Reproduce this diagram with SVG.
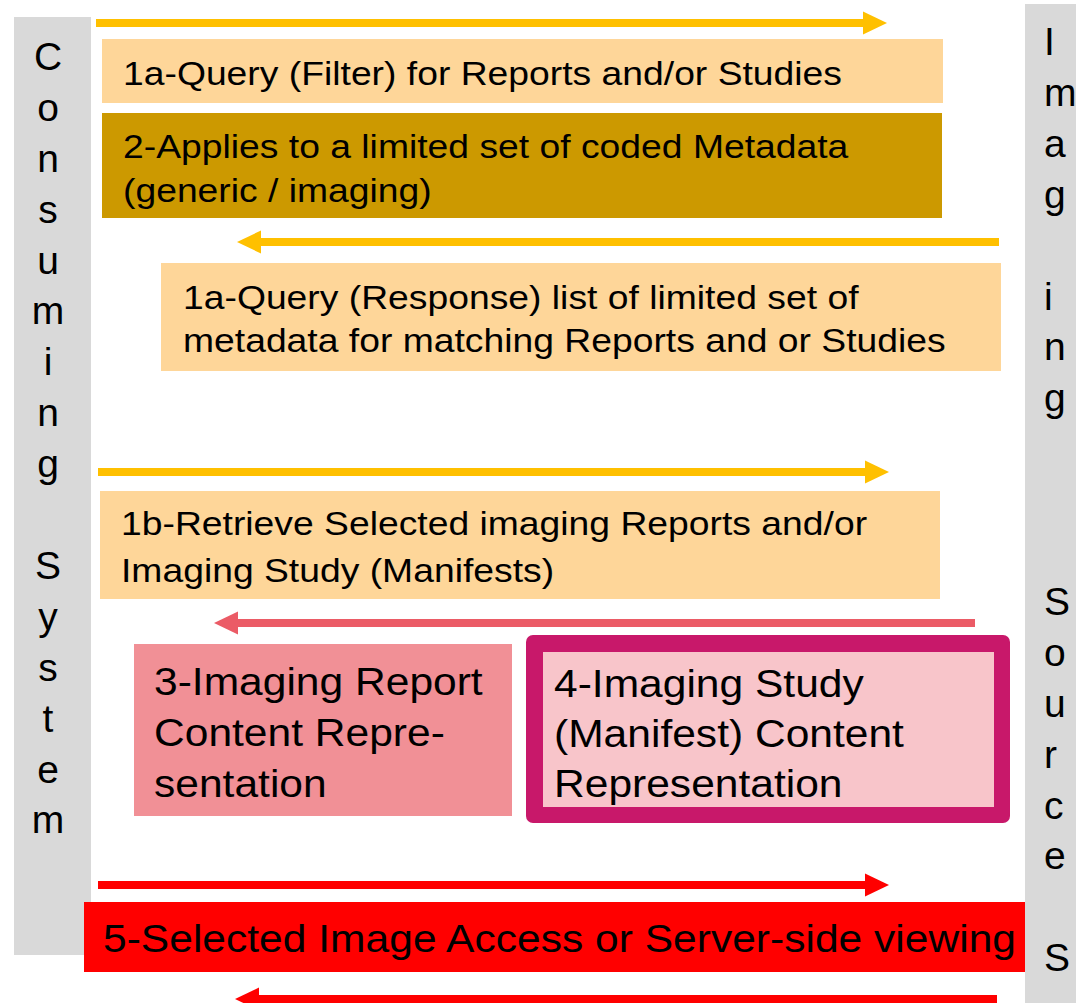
<svg xmlns="http://www.w3.org/2000/svg" width="1076" height="1003" viewBox="0 0 1076 1003">
<style>
  .t{font-family:"Liberation Sans",Arial,sans-serif;fill:#000}
  .m{font-size:33px}
  .b{font-size:38px}
  .v{font-family:"Liberation Sans",Arial,sans-serif;font-size:39px;fill:#000}
  .bar{fill:#D9D9D9}
  .lo{fill:#FED699}
  .ay{stroke:#FFC000;stroke-width:8;fill:none}
  .ap{stroke:#EB5B66;stroke-width:8;fill:none}
  .ar{stroke:#FF0000;stroke-width:8;fill:none}
</style>
<defs>
  <marker id="hy" markerUnits="userSpaceOnUse" markerWidth="24" markerHeight="23" refX="0" refY="11.5" orient="auto" overflow="visible"><path d="M0,0 L24,11.5 L0,23 z" fill="#FFC000"/></marker>
  <marker id="hp" markerUnits="userSpaceOnUse" markerWidth="24" markerHeight="23" refX="0" refY="11.5" orient="auto" overflow="visible"><path d="M0,0 L24,11.5 L0,23 z" fill="#EB5B66"/></marker>
  <marker id="hr" markerUnits="userSpaceOnUse" markerWidth="24" markerHeight="23" refX="0" refY="11.5" orient="auto" overflow="visible"><path d="M0,0 L24,11.5 L0,23 z" fill="#FF0000"/></marker>
</defs>
<rect width="1076" height="1003" fill="#FFFFFF"/>

<g id="consuming-system">
  <rect class="bar" x="14" y="17" width="77" height="938"/>
  <g class="v" text-anchor="middle">
    <text x="48" y="70">C</text>
    <text x="48" y="121">o</text>
    <text x="48" y="172">n</text>
    <text x="48" y="223">s</text>
    <text x="48" y="274">u</text>
    <text x="48" y="324">m</text>
    <text x="48" y="375">i</text>
    <text x="48" y="426">n</text>
    <text x="48" y="477">g</text>
    <text x="48" y="579">S</text>
    <text x="48" y="630">y</text>
    <text x="48" y="681">s</text>
    <text x="48" y="732">t</text>
    <text x="48" y="783">e</text>
    <text x="48" y="833">m</text>
  </g>
</g>

<g id="imaging-source-system">
  <rect class="bar" x="1025" y="4" width="51" height="999"/>
  <g class="v">
    <text x="1044" y="55">I</text>
    <text x="1044" y="106">m</text>
    <text x="1044" y="157">a</text>
    <text x="1044" y="208">g</text>
    <text x="1044" y="310">i</text>
    <text x="1044" y="360">n</text>
    <text x="1044" y="411">g</text>
    <text x="1044" y="615">S</text>
    <text x="1044" y="666">o</text>
    <text x="1044" y="717">u</text>
    <text x="1044" y="768">r</text>
    <text x="1044" y="819">c</text>
    <text x="1044" y="869">e</text>
    <text x="1044" y="971">S</text>
  </g>
</g>

<g id="box-1a-query">
  <rect class="lo" x="102" y="39" width="841" height="64"/>
  <text class="t m" transform="translate(123,85) scale(1.13,1)">1a-Query (Filter) for Reports and/or Studies</text>
</g>

<g id="box-2-applies">
  <rect x="102" y="113" width="840" height="105" fill="#CC9900"/>
  <text class="t m" transform="translate(123,158) scale(1.13,1)">2-Applies to a limited set of coded Metadata</text>
  <text class="t m" transform="translate(123,202) scale(1.13,1)">(generic / imaging)</text>
</g>

<g id="box-1a-response">
  <rect class="lo" x="161" y="263" width="840" height="108"/>
  <text class="t m" transform="translate(183,309) scale(1.13,1)">1a-Query (Response) list of limited set of</text>
  <text class="t m" transform="translate(183,352) scale(1.13,1)">metadata for matching Reports and or Studies</text>
</g>

<g id="box-1b-retrieve">
  <rect class="lo" x="100" y="491" width="840" height="108"/>
  <text class="t m" transform="translate(121,535) scale(1.13,1)">1b-Retrieve Selected imaging Reports and/or</text>
  <text class="t m" transform="translate(121,582) scale(1.13,1)">Imaging Study (Manifests)</text>
</g>

<g id="box-3-report">
  <rect x="134" y="644" width="378" height="172" fill="#F19096"/>
  <text class="t b" transform="translate(154,695) scale(1.12,1)">3-Imaging Report</text>
  <text class="t b" transform="translate(154,746) scale(1.12,1)">Content Repre-</text>
  <text class="t b" transform="translate(154,797) scale(1.12,1)">sentation</text>
</g>

<g id="box-4-study">
  <rect x="526" y="635" width="484" height="188" rx="7" fill="#C8186A"/>
  <rect x="543" y="652" width="451" height="155" fill="#F8C5CA"/>
  <text class="t b" transform="translate(554,697) scale(1.12,1)">4-Imaging Study</text>
  <text class="t b" transform="translate(554,747) scale(1.12,1)">(Manifest) Content</text>
  <text class="t b" transform="translate(554,797) scale(1.12,1)">Representation</text>
</g>

<g id="box-5-access">
  <rect x="84" y="902" width="941" height="70" fill="#FF0000"/>
  <text class="t" x="103" y="952" font-size="39" textLength="913" lengthAdjust="spacingAndGlyphs">5-Selected Image Access or Server-side viewing</text>
</g>

<g id="connectors">
  <line class="ay" x1="96" y1="23" x2="863" y2="23" marker-end="url(#hy)"/>
  <line class="ay" x1="999" y1="242" x2="261" y2="242" marker-end="url(#hy)"/>
  <line class="ay" x1="98" y1="472" x2="865" y2="472" marker-end="url(#hy)"/>
  <line class="ap" x1="975" y1="623" x2="238" y2="623" marker-end="url(#hp)"/>
  <line class="ar" x1="98" y1="885" x2="865" y2="885" marker-end="url(#hr)"/>
  <line class="ar" x1="997" y1="999" x2="259" y2="999" marker-end="url(#hr)"/>
</g>
</svg>
